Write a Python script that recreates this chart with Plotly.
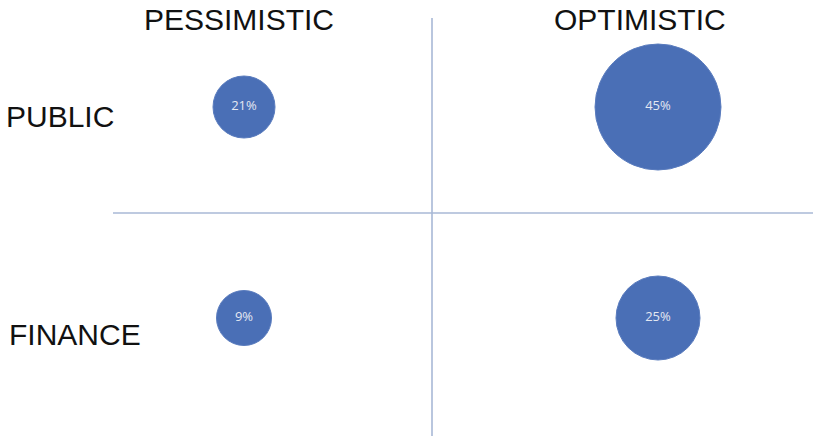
import plotly.graph_objects as go

# Data
outlooks = ["PESSIMISTIC", "OPTIMISTIC"]
sectors = ["FINANCE", "PUBLIC"]
bubble_outlook = ["PESSIMISTIC", "OPTIMISTIC", "PESSIMISTIC", "OPTIMISTIC"]
bubble_sector = ["PUBLIC", "PUBLIC", "FINANCE", "FINANCE"]
bubble_values = [21, 45, 9, 25]

# Style: marker diameters (px) as drawn in the reference
marker_diam = [62, 126, 55, 84]

W, H = 813, 436
ox = {o: i for i, o in enumerate(outlooks)}
sy = {s: i for i, s in enumerate(sectors)}

xs = [ox[o] for o in bubble_outlook]
ys = [sy[s] for s in bubble_sector]
labels = [f"{v}%" for v in bubble_values]

fig = go.Figure()
fig.add_trace(go.Scatter(
    x=xs, y=ys, mode="markers+text",
    text=labels, textposition="middle center",
    textfont=dict(family="Open Sans, Liberation Sans", size=13, color="#e4e8f2"),
    marker=dict(size=marker_diam, color="#4a6fb6", line=dict(width=1, color="#5a7cbe"), opacity=1),
    hoverinfo="skip", showlegend=False,
))

fnt = dict(family="Liberation Sans, Arial", size=30, color="#111111")

# Column headers
for o, cx in zip(outlooks, [0, 1]):
    fig.add_annotation(x=cx, y=1.0, xref="x", yref="paper", yanchor="middle", xanchor="center",
                       text=o, showarrow=False, font=fnt, xshift=-5 if cx == 0 else -18,
                       yshift=-19)
# Row headers
fig.add_annotation(x=60 / W, y=sy["PUBLIC"], xref="paper", yref="y", xanchor="center",
                   text="PUBLIC", showarrow=False, font=fnt, yshift=-9)
fig.add_annotation(x=75 / W, y=sy["FINANCE"], xref="paper", yref="y", xanchor="center",
                   text="FINANCE", showarrow=False, font=fnt, yshift=-16)

line_style = dict(color="#a8b8d6", width=1.6)
fig.add_shape(type="line", xref="paper", yref="paper",
              x0=432 / W, x1=432 / W, y0=0, y1=1 - 18 / H, line=line_style, layer="below")
fig.add_shape(type="line", xref="paper", yref="paper",
              x0=113 / W, x1=1, y0=1 - 213 / H, y1=1 - 213 / H, line=line_style, layer="below")

fig.update_layout(
    width=W, height=H,
    margin=dict(l=0, r=0, t=0, b=0),
    paper_bgcolor="white", plot_bgcolor="white",
    xaxis=dict(range=[-244 / 414, (W - 244) / 414], visible=False, fixedrange=True),
    yaxis=dict(range=[-(H - 318) / 211, 1 + 107 / 211], visible=False, fixedrange=True),
)

fig.write_html("out.html")
